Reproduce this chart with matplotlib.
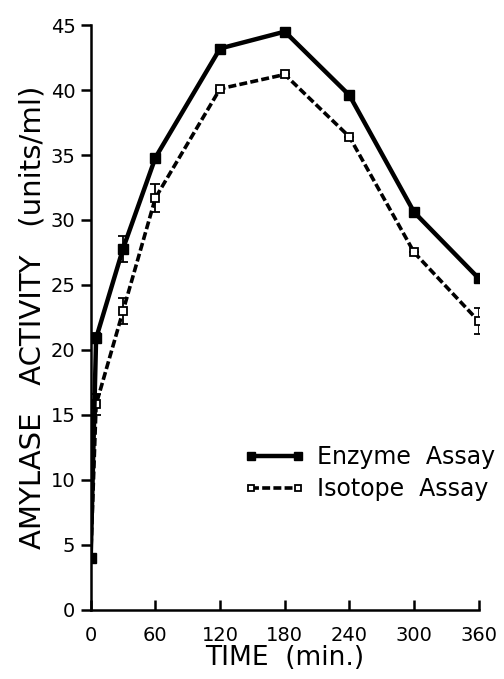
import matplotlib
matplotlib.use('Agg')
import matplotlib.pyplot as plt
import numpy as np

# time points (min)
time = [0, 5, 30, 60, 120, 180, 240, 300, 360]

enzyme = [4.0, 20.9, 27.8, 34.8, 43.2, 44.5, 39.6, 30.6, 25.5]
enzyme_err = [0, 0.4, 1.0, 0, 0, 0, 0, 0, 0]

isotope = [4.0, 15.8, 23.0, 31.7, 40.1, 41.2, 36.4, 27.5, 22.2]
isotope_err = [0, 0.8, 1.0, 1.1, 0, 0, 0, 0, 1.0]

xticks = [0, 60, 120, 180, 240, 300, 360]
yticks = list(range(0, 50, 5))

fig = plt.figure(figsize=(5.04, 6.79), dpi=100)
ax = fig.add_axes([0.18, 0.102, 0.77, 0.861])

# error bars (kept out of legend)
ax.errorbar(time, isotope, yerr=isotope_err, fmt='none', ecolor='black',
            elinewidth=1.3, capsize=3.5, capthick=1.3)
ax.errorbar(time, enzyme, yerr=enzyme_err, fmt='none', ecolor='black',
            elinewidth=1.3, capsize=3.5, capthick=1.3)

ax.plot(time, isotope, color='black', lw=2.6, ls=(0, (2.2, 0.9)),
        marker='s', ms=6, mfc='white', mec='black', mew=1.3,
        label='Isotope  Assay')
ax.plot(time, enzyme, color='black', lw=3.2,
        marker='s', ms=6.5, mfc='black', mec='black',
        label='Enzyme  Assay')

ax.set_xlim(0, 360)
ax.set_ylim(0, 45)
ax.set_xticks(xticks)
ax.set_yticks(yticks)
ax.spines['top'].set_visible(False)
ax.spines['right'].set_visible(False)
ax.spines['left'].set_linewidth(1.8)
ax.spines['bottom'].set_linewidth(1.8)
ax.tick_params(axis='x', direction='in', length=7, width=1.8, labelsize=14, pad=12)
ax.tick_params(axis='y', direction='out', length=7, width=1.8, labelsize=14, pad=4)

ax.set_xlabel('TIME  (min.)', fontsize=19, labelpad=0)
ax.set_ylabel('AMYLASE   ACTIVITY   (units/ml)', fontsize=21, labelpad=3)

handles, labels = ax.get_legend_handles_labels()
leg = ax.legend(handles[::-1], labels[::-1], loc='upper left',
                bbox_to_anchor=(0.34, 0.318), frameon=False,
                fontsize=17, numpoints=2, handlelength=2.6, handletextpad=0.5,
                labelspacing=0.35, markerscale=0.8)

fig.savefig('out.png', dpi=100)
